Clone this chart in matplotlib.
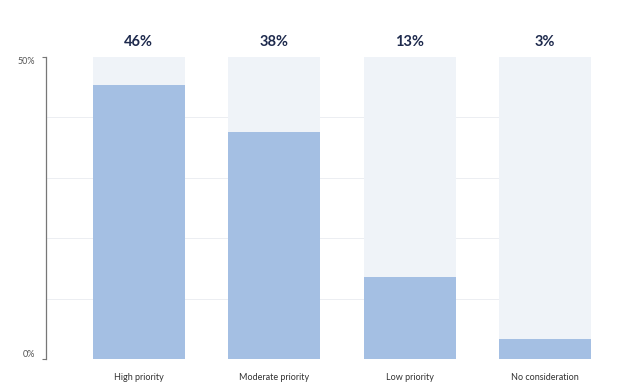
import matplotlib.pyplot as plt

categories = ["High priority", "Moderate priority", "Low priority", "No consideration"]
values = [45.4, 37.6, 13.5, 3.3]
labels = ["46%", "38%", "13%", "3%"]

plt.rcParams["font.family"] = ["Lato", "DejaVu Sans"]

fig = plt.figure(figsize=(6.17, 3.92), dpi=100)
ax = fig.add_axes([46 / 617, 1 - 359 / 392, 545 / 617, 302 / 392])

x = range(len(categories))
ax.bar(x, [50] * len(values), width=0.68, color="#eff3f8", zorder=1)
ax.bar(x, values, width=0.68, color="#a4bfe3", zorder=2)

for xi, lab in zip(x, labels):
    ax.text(xi, 52.5, lab, ha="center", va="center", fontsize=10.5,
            fontweight="bold", color="#1e2a4d")

ax.set_xlim(-0.686, 3.34)
ax.set_ylim(0, 50)
ax.set_yticks([0, 50])
ax.set_yticklabels(["0%", "50%"], fontsize=6.5, color="#555555")
# reference labels sit a bit inside the tick positions
ax.get_yticklabels()[0].set_va("bottom")
ax.get_yticklabels()[1].set_va("top")
for yv in [10, 20, 30, 40]:
    ax.axhline(yv, color="#eceef2", lw=0.7, zorder=0)

ax.set_xticks(list(x))
ax.set_xticklabels(categories, fontsize=6.5, color="#333333")
ax.tick_params(axis="x", length=0, pad=10)
ax.tick_params(axis="y", length=3, width=0.8, color="#777777", pad=5)

for s in ["top", "right", "bottom"]:
    ax.spines[s].set_visible(False)
ax.spines["left"].set_color("#777777")
ax.spines["left"].set_linewidth(0.9)

fig.savefig("out.png", dpi=100)
